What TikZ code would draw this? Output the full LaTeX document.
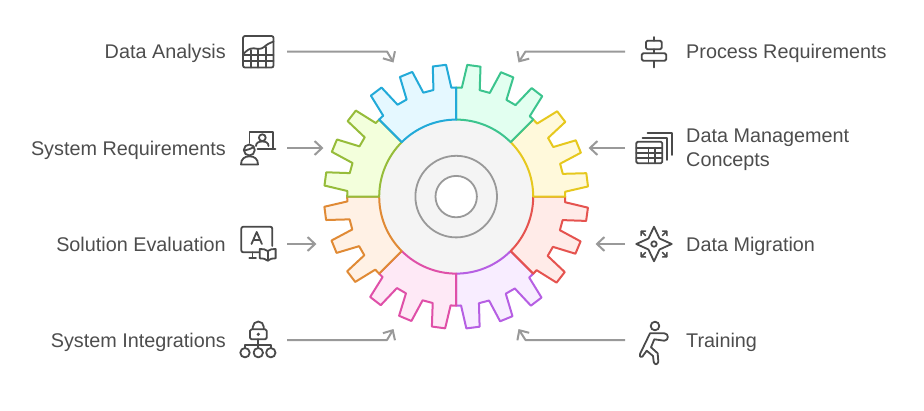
\documentclass[tikz,border=0pt]{standalone}
\usepackage{fontspec}
\setmainfont{Liberation Sans}
\usetikzlibrary{arrows.meta}
\definecolor{txt}{HTML}{4D4D4D}
\definecolor{icn}{HTML}{4A4A4A}
\definecolor{conn}{HTML}{999999}
\definecolor{hub}{HTML}{F4F4F4}
\definecolor{fPurple}{HTML}{F8EDFF}\definecolor{sPurple}{HTML}{B65FE3}
\definecolor{fRed}{HTML}{FFEBE8}\definecolor{sRed}{HTML}{E5534F}
\definecolor{fPink}{HTML}{FEE9F6}\definecolor{sPink}{HTML}{DF50A8}
\definecolor{fOrange}{HTML}{FFF1E5}\definecolor{sOrange}{HTML}{E08A35}
\definecolor{fYellow}{HTML}{FFF9DB}\definecolor{sYellow}{HTML}{E6C81E}
\definecolor{fGreen}{HTML}{E2FFF0}\definecolor{sGreen}{HTML}{3CC48E}
\definecolor{fLime}{HTML}{F3FFDC}\definecolor{sLime}{HTML}{96BC3A}
\definecolor{fBlue}{HTML}{E5F8FF}\definecolor{sBlue}{HTML}{22AAD8}
\tikzset{
  x=1pt,y=-1pt,
  lab/.style={font=\fontsize{19.8}{24}\selectfont,text=txt,inner sep=0pt},
  labl/.style={lab,anchor=base east},
  labr/.style={lab,anchor=base west},
  labm/.style={lab,anchor=west,align=left},
  linkline/.style={draw=conn,line width=2pt,line join=round,-{Straight Barb[length=7.5pt,width=14pt,line width=2pt]}},
  icon/.style={draw=icn,line width=1.8pt,line cap=round,line join=round},
  hubring/.style={draw=conn,line width=1.8pt},
  sector/.style={line width=2pt,line join=round},
}
\newcommand{\gearsec}[3]{%
  \filldraw[sector,fill=#2,draw=#3]
    (#1:77pt) -- (#1:109pt)
    \foreach \k in {0,1,2}{
      -- ({#1+7.3+15*\k-4.75}:109pt) -- ({#1+7.3+15*\k-2.9}:132.2pt)
      -- ({#1+7.3+15*\k+2.9}:132.2pt) -- ({#1+7.3+15*\k+4.75}:109pt)
    }
    -- ({#1+45}:109pt) -- ({#1+45}:77pt)
    arc[start angle={#1+45},end angle=#1,radius=77pt] -- cycle;
}
\begin{document}
\begin{tikzpicture}
\useasboundingbox (0,0) rectangle (924,410);
% gear
\begin{scope}[shift={(456.2,196.6)}]
  \fill[hub] (0,0) circle[radius=77pt];
  \gearsec{270}{fPurple}{sPurple}
  \gearsec{315}{fRed}{sRed}
  \gearsec{225}{fPink}{sPink}
  \gearsec{180}{fOrange}{sOrange}
  \gearsec{0}{fYellow}{sYellow}
  \gearsec{45}{fGreen}{sGreen}
  \gearsec{135}{fLime}{sLime}
  \gearsec{90}{fBlue}{sBlue}
  \draw[hubring] (0,0) circle[radius=40.8pt];
  \draw[hubring,fill=white] (0,0) circle[radius=20.7pt];
\end{scope}
% labels
\node[labl] (tA) at (226,58) {Data Analysis};
\node[labl] (tB) at (226,155) {System Requirements};
\node[labl] (tC) at (226,251) {Solution Evaluation};
\node[labl] (tD) at (226,347) {System Integrations};
\node[labr] (tE) at (686,58) {Process Requirements};
\node[labm] (tF) at (686,150) {Data Management\\Concepts};
\node[labr] (tG) at (686,251) {Data Migration};
\node[labr] (tH) at (686,347) {Training};
% connector ends
\coordinate (a0) at (287,51.5); \coordinate (a1) at (387,51.5); \coordinate (a2) at (393.5,62.5);
\coordinate (b0) at (287,148);  \coordinate (b2) at (323.5,148);
\coordinate (c0) at (287,244);  \coordinate (c2) at (316.5,244);
\coordinate (d0) at (287,340);  \coordinate (d1) at (387,340);  \coordinate (d2) at (393.5,329);
\coordinate (e0) at (625,51.5); \coordinate (e1) at (525.5,51.5); \coordinate (e2) at (518.5,62.5);
\coordinate (f0) at (625,148);  \coordinate (f2) at (588.5,148);
\coordinate (g0) at (625,244);  \coordinate (g2) at (595.5,244);
\coordinate (h0) at (625,340);  \coordinate (h1) at (525.5,340); \coordinate (h2) at (518.5,329);
\draw[linkline] (a0) -- (a1) -- (a2);
\draw[linkline] (b0) -- (b2);
\draw[linkline] (c0) -- (c2);
\draw[linkline] (d0) -- (d1) -- (d2);
\draw[linkline] (e0) -- (e1) -- (e2);
\draw[linkline] (f0) -- (f2);
\draw[linkline] (g0) -- (g2);
\draw[linkline] (h0) -- (h1) -- (h2);
% icon: chart grid
\draw[icon,rounded corners=2pt] (243,36) rectangle (273.5,67.5);
\draw[icon] (243,54.5) .. controls (247,50) and (250,48) .. (254,48.3) .. controls (258,49) and (261,49.5) .. (264,47) .. controls (267,44.5) and (270,42.5) .. (273.5,41.5);
\draw[icon] (243,55) -- (273.5,55) (243,61) -- (273.5,61);
\draw[icon] (250.7,50) -- (250.7,67.5) (258,49) -- (258,67.5) (265.7,47) -- (265.7,67.5);
% icon: person + screen
\draw[icon] (249.5,143) -- (249.5,131.7) -- (272.7,131.7) -- (272.7,149);
\draw[icon] (257.5,149) -- (275.5,149);
\draw[icon] (262.3,137.7) circle[radius=3.4pt];
\draw[icon] (256,146) .. controls (256,142.5) and (259,141.5) .. (262.3,141.5) .. controls (265.6,141.5) and (268.5,142.5) .. (268.5,146);
\draw[icon] (249.3,150) circle[radius=5.5pt];
\draw[icon] (244.5,150.5) .. controls (248,150) and (251,148.5) .. (254,147);
\draw[icon] (241,164.5) .. controls (241,159) and (244.5,156.3) .. (249.5,156.3) .. controls (254.5,156.3) and (258,159) .. (258,164.5) -- cycle;
% icon: screen + book
\draw[icon,rounded corners=2pt] (259,252.3) -- (241.3,252.3) -- (241.3,226.7) -- (272.3,226.7) -- (272.3,246);
\draw[icon] (252.5,252.3) -- (252.5,258.3) (249.3,258.3) -- (256,258.3);
\draw[icon] (251.5,244) -- (256.7,232) -- (261.9,244) (253.2,240) -- (260.2,240);
\draw[icon] (267.7,251) .. controls (265.5,249.3) and (263,248.8) .. (259.8,249) -- (259.8,258.3) .. controls (263,258.1) and (265.5,258.8) .. (267.7,260.7) .. controls (269.9,258.8) and (272.4,258.1) .. (275.6,258.3) -- (275.6,249) .. controls (272.4,248.8) and (269.9,249.3) .. (267.7,251) -- cycle;
\draw[icon] (267.7,251) -- (267.7,260.7);
% icon: lock + tree
\draw[icon,rounded corners=1.5pt] (250,329.3) rectangle (266.7,339.3);
\draw[icon] (252.8,329.3) -- (252.8,327) arc[start angle=180,end angle=0,radius=5.5pt] -- (263.8,329.3);
\fill[icn] (258.3,334.3) circle[radius=1.8pt];
\draw[icon] (258.3,339.3) -- (258.3,348);
\draw[icon] (245,348) -- (245,345) -- (270.8,345) -- (270.8,348);
\draw[icon] (245,352.7) circle[radius=4.7pt] (258.3,352.7) circle[radius=4.7pt] (270.8,352.7) circle[radius=4.7pt];
% icon: align
\draw[icon] (653.7,37) -- (653.7,40.7) (653.7,49.3) -- (653.7,53.3) (653.7,60.7) -- (653.7,67.5);
\draw[icon,rounded corners=1.5pt] (646,40.7) rectangle (661.7,49.3);
\draw[icon,rounded corners=1.5pt] (641.7,53.3) rectangle (666.3,60.7);
% icon: stacked tables
\draw[icon,rounded corners=1.5pt] (636.3,141.7) rectangle (662.3,163.3);
\draw[icon] (636.3,147.7) -- (662.3,147.7) (636.3,153) -- (662.3,153) (636.3,158.3) -- (662.3,158.3);
\draw[icon] (648.5,147.7) -- (648.5,163.3) (655.3,147.7) -- (655.3,163.3);
\draw[icon] (642.5,137.7) -- (666.7,137.7) -- (666.7,160);
\draw[icon] (647.5,132.7) -- (671.7,132.7) -- (671.7,155);
% icon: compass star
\draw[icon] (654,226.7) -- (659.5,238.5) -- (671.7,244) -- (659.5,249.5) -- (654,261.3) -- (648.5,249.5) -- (636.3,244) -- (648.5,238.5) -- cycle;
\draw[icon] (654,244) circle[radius=2.7pt];
\foreach \sx/\sy in {1/1,1/-1,-1/1,-1/-1}{
  \draw[icon,line width=1.5pt] ({654+\sx*8.5},{244+\sy*8.5}) -- ({654+\sx*12.5},{244+\sy*12.5});
  \draw[icon,line width=1.5pt] ({654+\sx*8.5},{244+\sy*13}) -- ({654+\sx*12.8},{244+\sy*12.8}) -- ({654+\sx*13},{244+\sy*8.5});
}
% icon: runner
\draw[icon] (655,326) circle[radius=4.3pt];
\draw[icon] (650,333.3) -- (664.3,333.3) .. controls (669,333.5) and (669,340.5) .. (664.3,340.7) -- (654.3,339.3) -- (651,347.3) -- (657.7,353.3) -- (658.3,361.7) .. controls (657.7,365) and (654.3,365) .. (653.7,361.7) -- (653,356) -- (646.7,350.7) -- (642.3,356.7) .. controls (640.3,358.3) and (639,355.7) .. (640,354) -- cycle;
\end{tikzpicture}
\end{document}
